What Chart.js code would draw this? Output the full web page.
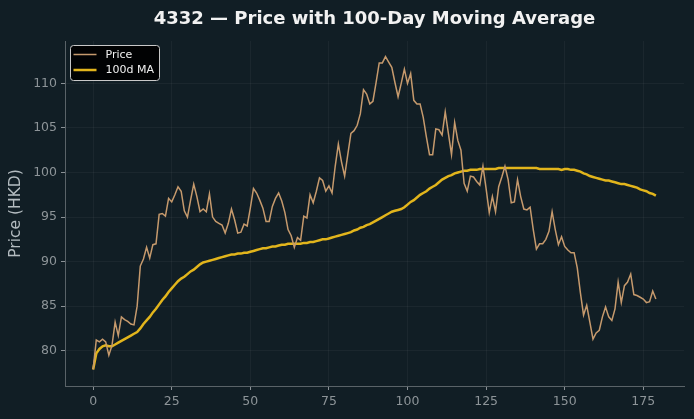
<!DOCTYPE html>
<html>
<head>
<meta charset="utf-8">
<script src="https://cdn.jsdelivr.net/npm/chart.js@4/dist/chart.umd.min.js"></script>
<style>
  html, body { margin: 0; padding: 0; background: #111e25; }
  #wrap { width: 694px; height: 419px; }
</style>
</head>
<body>
<div id="wrap"><canvas id="chart" width="694" height="419"></canvas></div>
<script>
// 4332 closing prices, last 180 sessions
const price = [
  77.9, 81.2, 81.0, 81.3, 81.0, 79.5, 80.6, 83.2, 81.7, 83.8,
  83.5, 83.3, 83.0, 82.9, 85.0, 89.5, 90.3, 91.6, 90.4, 91.9,
  92.0, 95.3, 95.4, 95.1, 97.1, 96.7, 97.5, 98.4, 97.9, 95.7,
  95.0, 96.9, 98.7, 97.3, 95.6, 95.9, 95.6, 97.6, 95.0, 94.5,
  94.3, 94.1, 93.2, 94.3, 95.9, 94.7, 93.2, 93.3, 94.2, 94.0,
  96.0, 98.2, 97.7, 96.9, 96.0, 94.5, 94.5, 96.2, 97.1, 97.7,
  96.8, 95.5, 93.6, 92.9, 91.6, 92.7, 92.4, 95.1, 94.9, 97.5,
  96.6, 97.9, 99.4, 99.1, 97.9, 98.5, 97.7, 100.7, 103.2, 101.2,
  99.6, 102.0, 104.4, 104.7, 105.3, 106.6, 109.3, 108.8, 107.7, 108.0,
  110.1, 112.3, 112.3, 113.0, 112.4, 111.8, 110.1, 108.5, 110.0, 111.6,
  110.0, 111.1, 108.1, 107.7, 107.7, 106.2, 104.0, 102.0, 102.0, 104.9,
  104.8, 104.2, 106.8, 104.4, 102.0, 105.6, 103.6, 102.5, 98.8, 97.9,
  99.6, 99.5, 99.0, 98.6, 100.7, 98.2, 95.5, 97.3, 95.6, 98.4,
  99.5, 100.7, 99.2, 96.6, 96.7, 99.2, 97.3, 95.9, 95.8, 96.1,
  93.6, 91.4, 92.0, 92.0, 92.5, 93.4, 95.6, 93.6, 91.9, 92.8,
  91.7, 91.3, 91.0, 91.0, 89.3, 86.5, 84.0, 85.1, 83.2, 81.3,
  82.0, 82.3, 83.8, 84.9, 83.8, 83.4, 84.7, 87.7, 85.4, 87.3,
  87.7, 88.6, 86.3, 86.2, 86.0, 85.8, 85.4, 85.5, 86.7, 85.8
];

// 100-day moving average, as plotted
const ma100 = [
  77.9, 79.7, 80.2, 80.5, 80.6, 80.5, 80.5, 80.7, 80.9, 81.1,
  81.3, 81.5, 81.7, 81.9, 82.1, 82.5, 83.0, 83.4, 83.8, 84.3,
  84.7, 85.2, 85.7, 86.1, 86.6, 87.0, 87.4, 87.8, 88.1, 88.3,
  88.6, 88.9, 89.1, 89.4, 89.7, 89.9, 90.0, 90.1, 90.2, 90.3,
  90.4, 90.5, 90.6, 90.7, 90.8, 90.8, 90.9, 90.9, 91.0, 91.0,
  91.1, 91.2, 91.3, 91.4, 91.5, 91.5, 91.6, 91.7, 91.7, 91.8,
  91.9, 91.9, 92.0, 92.0, 92.0, 92.0, 92.0, 92.1, 92.1, 92.2,
  92.2, 92.3, 92.4, 92.5, 92.5, 92.6, 92.7, 92.8, 92.9, 93.0,
  93.1, 93.2, 93.3, 93.5, 93.6, 93.8, 93.9, 94.1, 94.2, 94.4,
  94.6, 94.8, 95.0, 95.2, 95.4, 95.6, 95.7, 95.8, 95.9, 96.1,
  96.4, 96.7, 96.9, 97.2, 97.5, 97.7, 97.9, 98.2, 98.4, 98.6,
  98.9, 99.2, 99.4, 99.6, 99.7, 99.9, 100.0, 100.1, 100.2, 100.2,
  100.3, 100.3, 100.3, 100.4, 100.4, 100.4, 100.4, 100.4, 100.4, 100.5,
  100.5, 100.5, 100.5, 100.5, 100.5, 100.5, 100.5, 100.5, 100.5, 100.5,
  100.5, 100.5, 100.4, 100.4, 100.4, 100.4, 100.4, 100.4, 100.4, 100.3,
  100.4, 100.4, 100.3, 100.3, 100.2, 100.1, 99.9, 99.8, 99.6, 99.5,
  99.4, 99.3, 99.2, 99.1, 99.1, 99.0, 98.9, 98.8, 98.7, 98.7,
  98.6, 98.5, 98.4, 98.3, 98.1, 98.0, 97.9, 97.7, 97.6, 97.4
];

const xTicks = [0, 25, 50, 75, 100, 125, 150, 175];
const yTicks = [80, 85, 90, 95, 100, 105, 110];

const titleText = '4332 \u2014 Price with 100-Day Moving Average';
const FONT = "'DejaVu Sans', sans-serif";

function toPoints(arr) {
  return arr.map((v, i) => ({ x: i, y: v }));
}

// matplotlib-style title centred over the axes
const axesTitle = {
  id: 'axesTitle',
  afterDraw(chart) {
    const { ctx, chartArea } = chart;
    ctx.save();
    ctx.fillStyle = '#f2f2f2';
    ctx.font = 'bold 18px ' + FONT;
    ctx.textAlign = 'center';
    ctx.textBaseline = 'middle';
    ctx.fillText(titleText, (chartArea.left + chartArea.right) / 2, 19);
    ctx.restore();
  }
};

// boxed legend in the upper-left corner
const boxLegend = {
  id: 'boxLegend',
  afterDraw(chart) {
    const { ctx, chartArea } = chart;
    const x = chartArea.left + 5.5, y = chartArea.top + 4.5;
    const w = 89, h = 35;
    ctx.save();
    ctx.beginPath();
    ctx.roundRect(x, y, w, h, 3);
    ctx.fillStyle = 'rgba(0,0,0,0.92)';
    ctx.fill();
    ctx.strokeStyle = '#c8c8c8';
    ctx.lineWidth = 1;
    ctx.stroke();
    ctx.font = '11px ' + FONT;
    ctx.textBaseline = 'middle';
    chart.data.datasets.forEach((ds, i) => {
      const ly = y + 9 + i * 15.5;
      ctx.strokeStyle = ds.borderColor;
      ctx.lineWidth = ds.borderWidth;
      ctx.beginPath();
      ctx.moveTo(x + 3, ly);
      ctx.lineTo(x + 26, ly);
      ctx.stroke();
      ctx.fillStyle = '#f0f0f0';
      ctx.fillText(ds.label, x + 35, ly + 0.5);
    });
    ctx.restore();
  }
};

const ctx = document.getElementById('chart').getContext('2d');
new Chart(ctx, {
  type: 'line',
  data: {
    datasets: [
      {
        label: 'Price',
        data: toPoints(price),
        borderColor: '#c69a6d',
        borderWidth: 1.5,
        pointRadius: 0,
        tension: 0
      },
      {
        label: '100d MA',
        data: toPoints(ma100),
        borderColor: '#e2b51c',
        borderWidth: 2.5,
        pointRadius: 0,
        tension: 0
      }
    ]
  },
  options: {
    responsive: false,
    animation: false,
    events: [],
    layout: { padding: { top: 41, right: 10, left: 7, bottom: 0 } },
    plugins: {
      legend: { display: false },
      title: { display: false },
      tooltip: { enabled: false }
    },
    scales: {
      x: {
        type: 'linear',
        min: -8.95,
        max: 187.95,
        afterBuildTicks(scale) {
          scale.ticks = xTicks.map(v => ({ value: v }));
        },
        afterFit(scale) { scale.height = 33; },
        grid: {
          color: 'rgba(255,255,255,0.045)',
          tickColor: '#8a9196',
          tickLength: 4,
          drawTicks: true
        },
        border: { color: '#5a6368', width: 1 },
        ticks: {
          color: '#8d9498',
          font: { family: FONT, size: 12.5 },
          padding: 4,
          maxRotation: 0
        }
      },
      y: {
        min: 76.04,
        max: 114.76,
        afterBuildTicks(scale) {
          scale.ticks = yTicks.map(v => ({ value: v }));
        },
        afterFit(scale) { scale.width = 58; },
        grid: {
          color: 'rgba(255,255,255,0.045)',
          tickColor: '#8a9196',
          tickLength: 4,
          drawTicks: true
        },
        border: { color: '#5a6368', width: 1 },
        ticks: {
          color: '#8d9498',
          font: { family: FONT, size: 12.5 },
          padding: 4
        },
        title: {
          display: true,
          text: 'Price (HKD)',
          color: '#b4bcc0',
          font: { family: FONT, size: 15.5 },
          padding: { top: 0, bottom: 4 }
        }
      }
    }
  },
  plugins: [axesTitle, boxLegend]
});
</script>
</body>
</html>
